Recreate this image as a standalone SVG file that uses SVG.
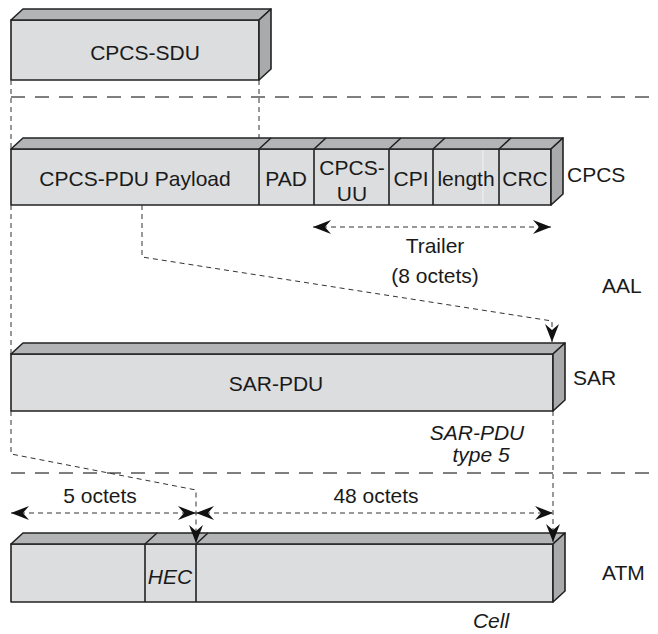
<svg xmlns="http://www.w3.org/2000/svg" width="658" height="634" viewBox="0 0 658 634">
<style>
  .front{fill:#dcdddf;stroke:#222;stroke-width:1.6;stroke-linejoin:round}
  .top{fill:#b3b4b6;stroke:#222;stroke-width:1.6;stroke-linejoin:round}
  .side{fill:#a9aaac;stroke:#222;stroke-width:1.6;stroke-linejoin:round}
  .div{stroke:#222;stroke-width:1.6;fill:none}
  .t{font-family:"Liberation Sans",Arial,sans-serif;font-size:21px;fill:#1a1a1a}
  .m{text-anchor:middle}
  .i{font-style:italic}
  .sep{stroke:#555;stroke-width:1.4;stroke-dasharray:14,10;fill:none}
  .con{stroke:#333;stroke-width:1;stroke-dasharray:5,4;fill:none}
</style>
<defs>
  <marker id="ah" viewBox="-19 -8 20 16" refX="0" refY="0" markerWidth="20" markerHeight="16" markerUnits="userSpaceOnUse" orient="auto-start-reverse">
    <path d="M0,0 L-18,-7 L-12,0 L-18,7 Z" fill="#111"/>
  </marker>
</defs>

<!-- layer separators -->
<g id="separators">
  <line class="sep" x1="11" y1="97" x2="658" y2="97"/>
  <line class="sep" x1="11" y1="473" x2="658" y2="473"/>
</g>

<!-- CPCS-SDU -->
<g id="cpcs-sdu">
  <rect class="front" x="11" y="20" width="248" height="60"/>
  <polygon class="top" points="11,20 23,9 271,9 259,20"/>
  <polygon class="side" points="259,20 271,9 271,69 259,80"/>
  <text class="t m" x="145" y="60">CPCS-SDU</text>
</g>

<!-- CPCS-PDU -->
<g id="cpcs-pdu">
  <rect class="front" x="11" y="149" width="540" height="56"/>
  <polygon class="top" points="11,149 23,138 563,138 551,149"/>
  <polygon class="side" points="551,149 563,138 563,194 551,205"/>
  <line x1="483" y1="150" x2="483" y2="204" stroke="#f2f2f2" stroke-width="1"/>
  <path class="div" d="M259,149 V205 M259,149 L271,138 M314,149 V205 M314,149 L326,138 M389,149 V205 M389,149 L401,138 M433,149 V205 M433,149 L445,138 M499,149 V205 M499,149 L511,138"/>
  <text class="t m" x="135" y="186">CPCS-PDU Payload</text>
  <text class="t m" x="286" y="186">PAD</text>
  <text class="t m" x="352" y="175">CPCS-</text>
  <text class="t m" x="352" y="201">UU</text>
  <text class="t m" x="411" y="186">CPI</text>
  <text class="t m" x="466" y="186">length</text>
  <text class="t m" x="525" y="186">CRC</text>
</g>

<!-- SAR-PDU -->
<g id="sar-pdu">
  <rect class="front" x="11" y="354" width="542" height="57"/>
  <polygon class="top" points="11,354 23,343 565,343 553,354"/>
  <polygon class="side" points="553,354 565,343 565,400 553,411"/>
  <text class="t m" x="276" y="391">SAR-PDU</text>
</g>

<!-- ATM cell -->
<g id="atm-cell">
  <rect class="front" x="11" y="544" width="542" height="58"/>
  <polygon class="top" points="11,544 23,533 565,533 553,544"/>
  <polygon class="side" points="553,544 565,533 565,591 553,602"/>
  <path class="div" d="M145,544 V602 M145,544 L157,533 M196,544 V602 M196,544 L208,533"/>
  <text class="t m i" x="170" y="584">HEC</text>
</g>

<!-- connectors -->
<g id="connectors">
  <path class="con" d="M11,80 V149"/>
  <path class="con" d="M259,80 V138"/>
  <path class="con" d="M11,205 V354"/>
  <path class="con" d="M142,205 V257 L552,321 V342" marker-end="url(#ah)"/>
  <path class="con" d="M313,227 H551" marker-start="url(#ah)" marker-end="url(#ah)"/>
  <path class="con" d="M11,411 V454 L196,490 V543" marker-end="url(#ah)"/>
  <path class="con" d="M553,411 V542" marker-end="url(#ah)"/>
  <path class="con" d="M11,513 H196" marker-start="url(#ah)" marker-end="url(#ah)"/>
  <path class="con" d="M196,513 H553" marker-start="url(#ah)" marker-end="url(#ah)"/>
</g>

<!-- labels -->
<g id="labels">
  <text class="t" x="567" y="182">CPCS</text>
  <text class="t" x="602" y="293">AAL</text>
  <text class="t" x="573" y="385">SAR</text>
  <text class="t" x="602" y="580">ATM</text>
  <text class="t m" x="435" y="253">Trailer</text>
  <text class="t m" x="435" y="283">(8 octets)</text>
  <text class="t m i" x="477" y="440">SAR-PDU</text>
  <text class="t m i" x="481" y="462">type 5</text>
  <text class="t m" x="100" y="503">5 octets</text>
  <text class="t m" x="376" y="503">48 octets</text>
  <text class="t m i" x="491" y="628">Cell</text>
</g>
</svg>
